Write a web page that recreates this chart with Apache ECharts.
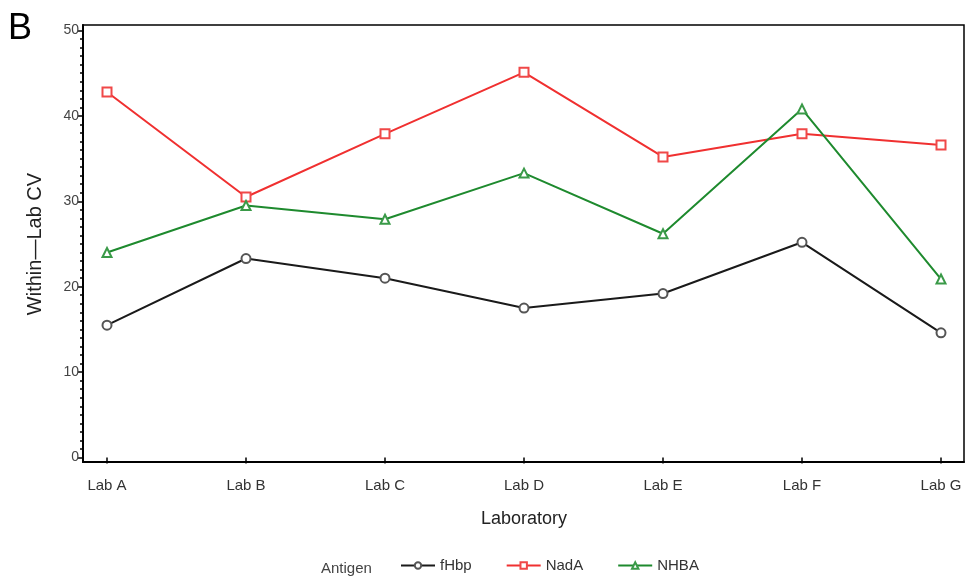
<!DOCTYPE html>
<html>
<head>
<meta charset="utf-8">
<script src="https://cdn.jsdelivr.net/npm/echarts@6/dist/echarts.min.js"></script>
<style>
  html, body { margin: 0; padding: 0; background: #fff; }
  #chart { width: 968px; height: 580px; }
</style>
</head>
<body>
<div id="chart"></div>
<script>
// Within-lab coefficient of variation per laboratory, by antigen
const labs = ['Lab A', 'Lab B', 'Lab C', 'Lab D', 'Lab E', 'Lab F', 'Lab G'];
const fHbp = [15.5, 23.3, 21.0, 17.5, 19.2, 25.2, 14.6];
const nadA = [42.8, 30.5, 37.9, 45.1, 35.2, 37.9, 36.6];
const nhba = [24.0, 29.5, 27.9, 33.3, 26.2, 40.8, 20.9];
const yTicks = [0, 10, 20, 30, 40, 50];

const FONT = '"Liberation Sans", Arial, sans-serif';
const chart = echarts.init(document.getElementById('chart'));

function line(name, data, color, markColor, symbol) {
  return {
    name, type: 'line', data,
    xAxisIndex: 0, yAxisIndex: 0,
    symbol, symbolSize: 9, showAllSymbol: true,
    lineStyle: { color, width: 2 },
    itemStyle: { color: markColor, borderColor: markColor, borderWidth: 1 },
    emphasis: { disabled: true },
    animation: false
  };
}

chart.setOption({
  backgroundColor: '#fff',
  animation: false,
  textStyle: { fontFamily: FONT },
  title: {
    text: 'B', left: 3, top: 6,
    textStyle: { fontFamily: FONT, fontSize: 36, fontWeight: 'normal', color: '#000' }
  },
  grid: [
    // data area: category positions span Lab A .. Lab G
    { left: 107, right: 968 - 941, top: 30.5, bottom: 580 - 457.5 },
    // framed panel around the plot
    { left: 83, right: 4, top: 25, bottom: 580 - 462, show: true, borderColor: '#000', borderWidth: 1.5, backgroundColor: 'transparent' }
  ],
  xAxis: [
    {
      type: 'category', gridIndex: 0, data: labs, boundaryGap: false,
      axisLine: { show: false },
      axisTick: { show: true, inside: false, alignWithLabel: true, length: 6, lineStyle: { color: '#000', width: 1.5 } },
      axisLabel: { color: '#333', fontSize: 15, margin: 16, fontFamily: FONT },
      offset: 4.5,
      splitLine: { show: false },
      name: 'Laboratory', nameLocation: 'middle', nameGap: 48,
      nameTextStyle: { color: '#222', fontSize: 18, fontFamily: FONT }
    },
    {
      type: 'value', gridIndex: 1, min: 0, max: 1,
      axisLine: { show: true, lineStyle: { color: '#000', width: 2 } },
      axisTick: { show: false }, axisLabel: { show: false }, splitLine: { show: false }
    }
  ],
  yAxis: [
    {
      type: 'value', gridIndex: 0, min: 0, max: 50, interval: 10,
      offset: 24,
      axisLine: { show: false },
      axisTick: { show: true, length: 5, lineStyle: { color: '#000', width: 1.5 } },
      minorTick: { show: true, splitNumber: 10, length: 3, lineStyle: { color: '#000', width: 1.5 } },
      axisLabel: {
        color: '#444', fontSize: 14, fontFamily: FONT, margin: 4,
        formatter: v => (yTicks.includes(v) ? String(v) : '')
      },
      splitLine: { show: false },
      name: 'Within\u2014Lab CV', nameLocation: 'middle', nameGap: 38, nameRotate: 90,
      nameTextStyle: { color: '#222', fontSize: 20, fontFamily: FONT }
    },
    {
      type: 'value', gridIndex: 1, min: 0, max: 1,
      axisLine: { show: true, lineStyle: { color: '#000', width: 2 } },
      axisTick: { show: false }, axisLabel: { show: false }, splitLine: { show: false }
    }
  ],
  legend: {
    bottom: 2, left: 395, itemGap: 34, itemWidth: 34, itemHeight: 8,
    textStyle: { color: '#333', fontSize: 15, fontFamily: FONT },
    data: ['fHbp', 'NadA', 'NHBA']
  },
  graphic: [{
    type: 'text', left: 321, bottom: 4,
    style: { text: 'Antigen', fill: '#444', font: '15px ' + FONT }
  }],
  series: [
    line('fHbp', fHbp, '#1a1a1a', '#555555', 'emptyCircle'),
    line('NadA', nadA, '#f03030', '#f04848', 'emptyRect'),
    line('NHBA', nhba, '#1e8a2e', '#3a9a48', 'emptyTriangle')
  ]
});
</script>
</body>
</html>
